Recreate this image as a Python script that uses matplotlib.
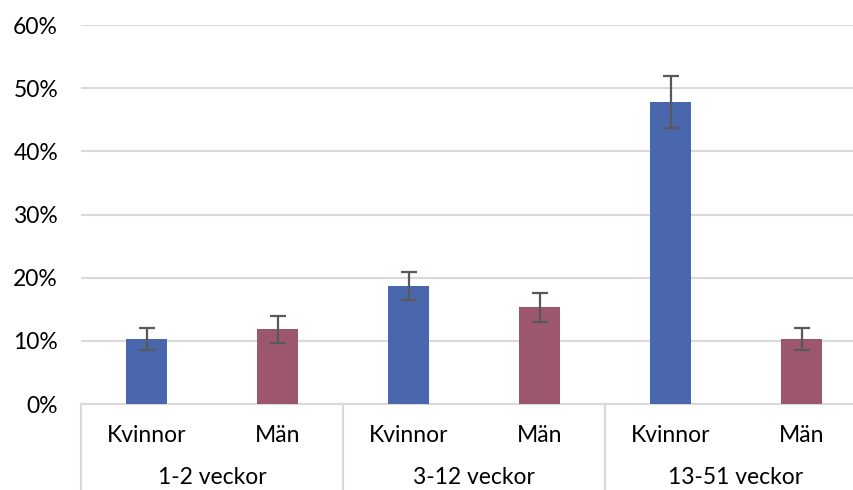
import numpy as np
import matplotlib
matplotlib.use('Agg')
import matplotlib.pyplot as plt

plt.rcParams['font.family'] = ['Lato', 'DejaVu Sans']

# data
sexes = ['Kvinnor', 'Män', 'Kvinnor', 'Män', 'Kvinnor', 'Män']
groups = ['1-2 veckor', '3-12 veckor', '13-51 veckor']
values = [10.3, 11.8, 18.7, 15.3, 47.8, 10.3]
errors = [1.8, 2.1, 2.2, 2.3, 4.1, 1.8]
colors = ['#4A66AC', '#9C566E'] * 3

fig = plt.figure(figsize=(8.54, 4.9), dpi=100)
ax = fig.add_axes([81/854, 86/490, 786/854, 379/490])

x = np.arange(len(values))
ax.bar(x, values, width=0.31, color=colors, zorder=3)
ax.errorbar(x, values, yerr=errors, fmt='none', ecolor='#595959',
            elinewidth=1.6, capsize=6, capthick=1.6, zorder=4)

ax.set_xlim(-0.5, 5.5)
ax.set_ylim(0, 60)
ax.set_yticks(np.arange(0, 61, 10))
ax.set_yticklabels([f'{v}%' for v in range(0, 61, 10)], fontsize=16.5)
ax.yaxis.grid(True, color='#D9D9D9', linewidth=1.5, zorder=0)
ax.tick_params(axis='y', length=0, pad=16.5)
ax.set_xticks([])
for s in ['left', 'right', 'top']:
    ax.spines[s].set_visible(False)
ax.spines['bottom'].set_color('#D9D9D9')
ax.spines['bottom'].set_linewidth(1.5)

# two-level category labels
trans = ax.get_xaxis_transform()
for i, s in enumerate(sexes):
    ax.text(i, -0.082, s, transform=trans, ha='center', va='center', fontsize=16.5)
for j, g in enumerate(groups):
    ax.text(2*j + 0.5, -0.195, g, transform=trans, ha='center', va='center', fontsize=16.5)
for b in [-0.5, 1.5, 3.5, 5.5]:
    ax.plot([b, b], [0, -0.23], transform=trans, color='#D9D9D9', lw=1.5, clip_on=False)

fig.savefig('out.png', dpi=100)
